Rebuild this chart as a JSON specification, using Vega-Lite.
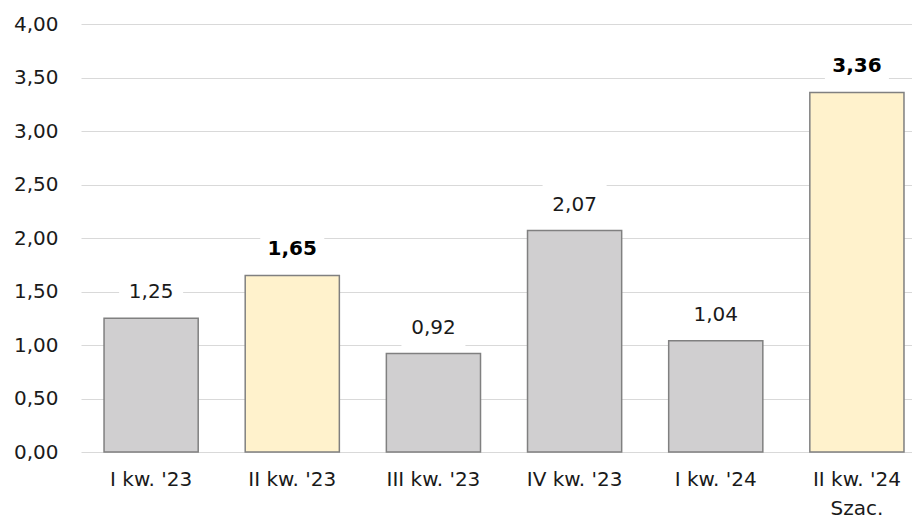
{
  "$schema": "https://vega.github.io/schema/vega-lite/v6.json",
  "autosize": {"type": "none"},
  "width": 831,
  "height": 428,
  "padding": {"left": 81, "top": 24, "right": 0, "bottom": 70},
  "background": "white",
  "config": {
    "view": {"stroke": null},
    "font": "DejaVu Sans",
    "locale": {"number": {"decimal": ",", "thousands": " ", "grouping": [3], "currency": ["", " zł"]}}
  },
  "data": {
    "values": [
      {"kw": "I kw. '23", "v": 1.25, "typ": "rzecz"},
      {"kw": "II kw. '23", "v": 1.65, "typ": "wyr"},
      {"kw": "III kw. '23", "v": 0.92, "typ": "rzecz"},
      {"kw": "IV kw. '23", "v": 2.07, "typ": "rzecz"},
      {"kw": "I kw. '24", "v": 1.04, "typ": "rzecz"},
      {"kw": "II kw. '24|Szac.", "v": 3.36, "typ": "wyr"}
    ]
  },
  "encoding": {
    "x": {
      "field": "kw", "type": "nominal", "sort": null, "title": null,
      "scale": {"paddingInner": 0.333, "paddingOuter": 0.11, "align": 0.742},
      "axis": {
        "labelAngle": 0, "domain": false, "ticks": false, "labelPadding": 17,
        "labelFontSize": 20, "labelColor": "#1a1a1a", "labelLineHeight": 29,
        "labelExpr": "split(datum.label, '|')"
      }
    },
    "y": {
      "field": "v", "type": "quantitative", "title": null,
      "scale": {"domain": [0, 4], "nice": false},
      "axis": {
        "values": [0, 0.5, 1, 1.5, 2, 2.5, 3, 3.5, 4], "format": ".2f",
        "domain": false, "ticks": false, "tickSize": 0, "labelPadding": 23,
        "labelFontSize": 20, "labelColor": "#1a1a1a",
        "gridColor": "#d9d9d9", "gridWidth": 1
      }
    }
  },
  "layer": [
    {
      "mark": {"type": "bar", "stroke": "#808080", "strokeWidth": 1.5},
      "encoding": {
        "color": {
          "field": "typ", "type": "nominal", "legend": null,
          "scale": {"domain": ["rzecz", "wyr"], "range": ["#d0cfd0", "#fff2cc"]}
        }
      }
    },
    {
      "mark": {"type": "point", "shape": "M-1,-0.625H1V0.625H-1Z", "size": 4096, "filled": true, "fill": "white", "opacity": 1, "strokeWidth": 0, "yOffset": -26}
    },
    {
      "transform": [{"filter": "datum.typ == 'rzecz'"}],
      "mark": {"type": "text", "fontSize": 20, "baseline": "middle", "yOffset": -26, "color": "#1a1a1a"},
      "encoding": {"text": {"field": "v", "type": "quantitative", "format": ".2f"}}
    },
    {
      "transform": [{"filter": "datum.typ == 'wyr'"}],
      "mark": {"type": "text", "fontSize": 20, "fontWeight": "bold", "baseline": "middle", "yOffset": -26, "color": "#000000"},
      "encoding": {"text": {"field": "v", "type": "quantitative", "format": ".2f"}}
    }
  ]
}
